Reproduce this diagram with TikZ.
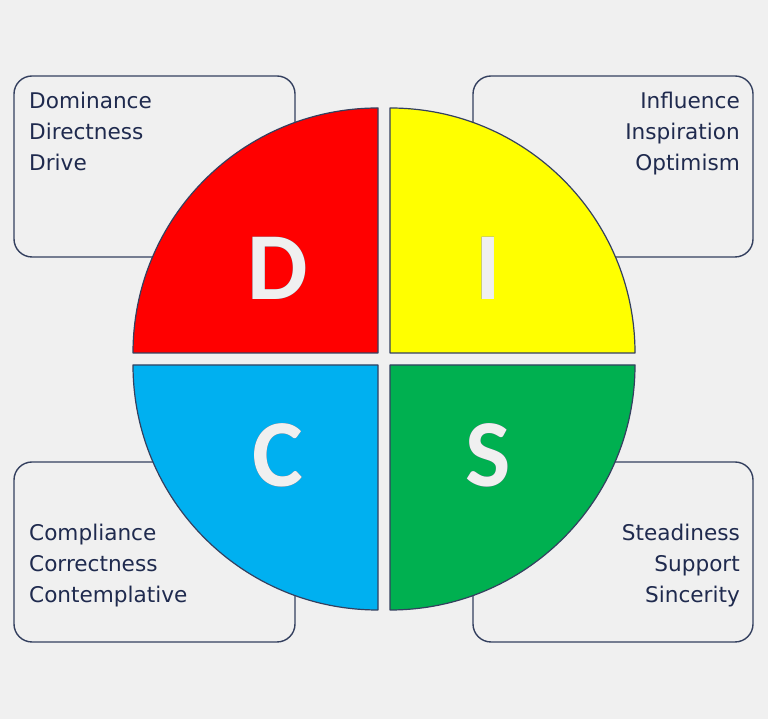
\documentclass[tikz,border=0pt]{standalone}
\usepackage{fontspec}
\setmainfont{DejaVu Sans}
\newfontfamily\letterfont{Carlito}[BoldFont={Carlito Bold}]
\usepackage[outline]{contour}
\contourlength{0.8pt}
\definecolor{bgc}{HTML}{F0F0F0}
\definecolor{edge}{HTML}{34405F}
\definecolor{txt}{HTML}{1F2A4E}
\definecolor{qred}{HTML}{FF0000}
\definecolor{qyel}{HTML}{FFFF00}
\definecolor{qcyan}{HTML}{00B0F0}
\definecolor{qgreen}{HTML}{00B050}
\tikzset{
  infobox/.style={draw=edge, line width=1.4pt, rounded corners=18pt},
  quad/.style={draw=edge, line width=1.2pt, line join=round},
  infotext/.style={text=txt, inner sep=0pt, font=\fontsize{21.6}{31}\selectfont},
  lt/.style={infotext, anchor=base west},
  rt/.style={infotext, anchor=base east},
  bigletter/.style={inner sep=0pt, text=bgc, font=\letterfont\bfseries\fontsize{96}{96}\selectfont}
}
\begin{document}
\begin{tikzpicture}[x=1pt,y=1pt]
\fill[bgc] (0,0) rectangle (768,719);
\useasboundingbox (0,0) rectangle (768,719);
% boxes
\draw[infobox] (14,462) rectangle (295,643);
\draw[infobox] (473,462) rectangle (753,643);
\draw[infobox] (14,77) rectangle (295,257);
\draw[infobox] (473,77) rectangle (753,257);
% quadrants
\draw[quad, fill=qred] (378,366) -- (133,366) arc (180:90:245) -- cycle;
\draw[quad, fill=qyel] (390,366) -- (635,366) arc (0:90:245) -- cycle;
\draw[quad, fill=qcyan] (378,354) -- (133,354) arc (180:270:245) -- cycle;
\draw[quad, fill=qgreen] (390,354) -- (635,354) arc (0:-90:245) -- cycle;
% letters
\node[bigletter] (d) at (278,451) {\contour{edge}{D}};
\node[bigletter] (i) at (488,451) {\contour{edge}{I}};
\node[bigletter] (c) at (278,264) {\contour{edge}{C}};
\node[bigletter] (s) at (488,264) {\contour{edge}{S}};
% texts
\node[lt] (tl1) at (29,610) {Dominance};
\node[lt] (tl2) at (29,579) {Directness};
\node[lt] (tl3) at (29,548) {Drive};
\node[rt] (tr1) at (740,610) {Influence};
\node[rt] (tr2) at (740,579) {Inspiration};
\node[rt] (tr3) at (740,548) {Optimism};
\node[lt] (bl1) at (29,178) {Compliance};
\node[lt] (bl2) at (29,147) {Correctness};
\node[lt] (bl3) at (29,116) {Contemplative};
\node[rt] (br1) at (740,178) {Steadiness};
\node[rt] (br2) at (740,147) {Support};
\node[rt] (br3) at (740,116) {Sincerity};
\end{tikzpicture}
\end{document}
